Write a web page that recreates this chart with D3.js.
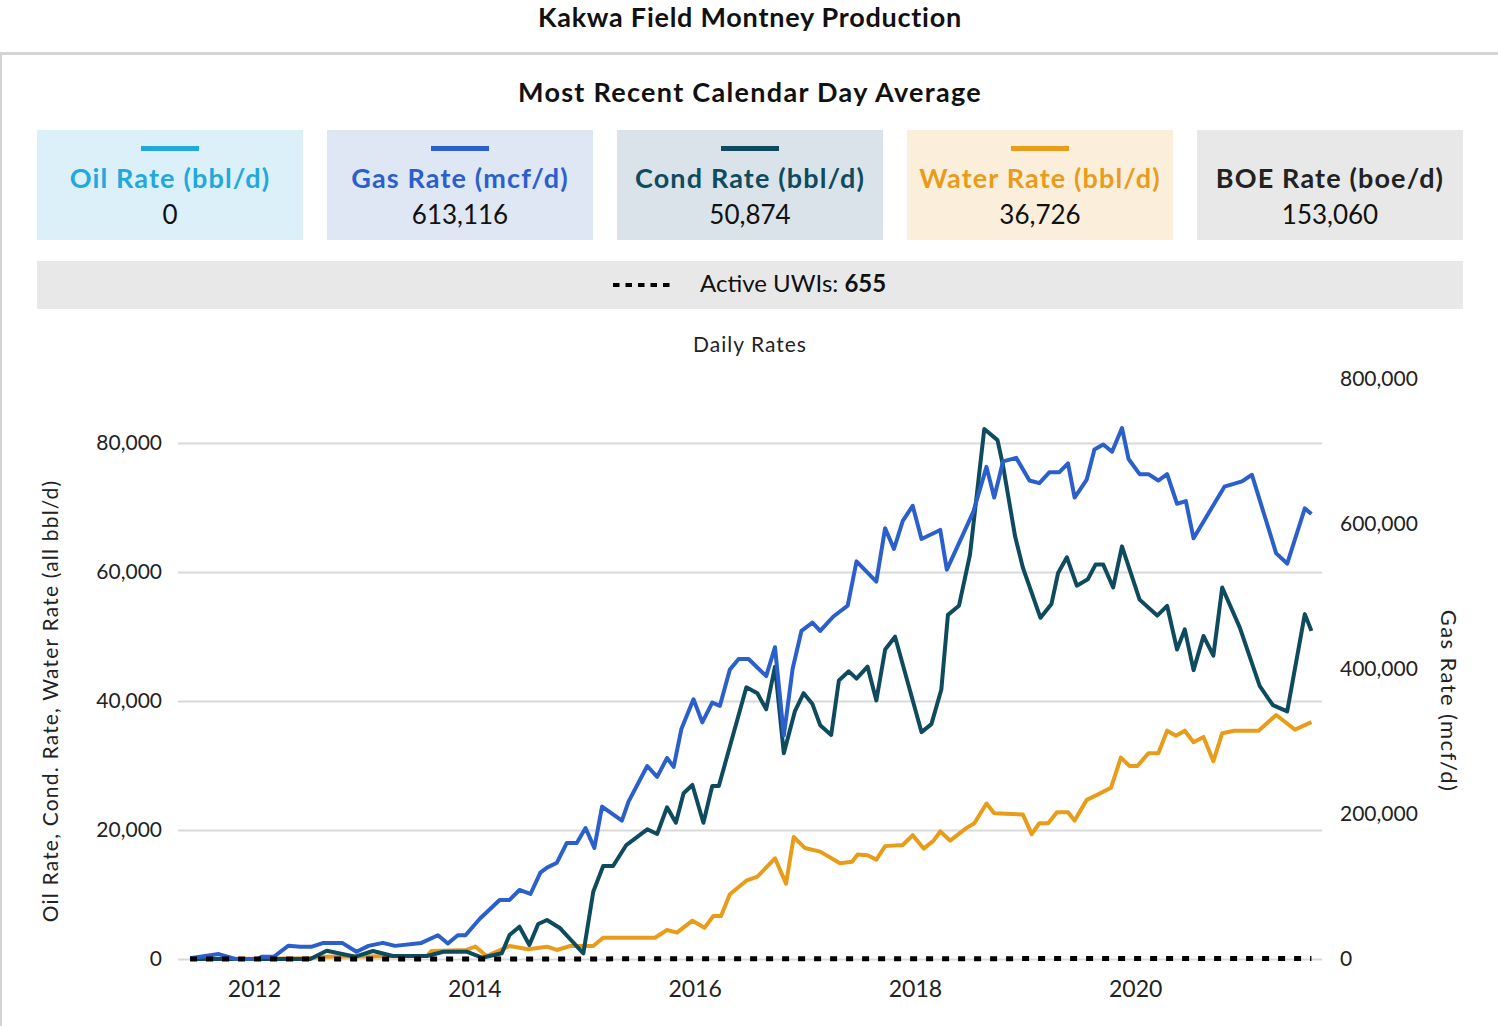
<!DOCTYPE html>
<html>
<head>
<meta charset="utf-8">
<script src="https://cdn.jsdelivr.net/npm/d3@7"></script>
<style>
    body { margin: 0; background: #fff; }
    svg { display: block; font-family: "Century Gothic", Lato, sans-serif; }
</style>
</head>
<body>
<svg id="chart" width="1498" height="1026"></svg>
<script>
// Summary cards
var cardLabels = ["Oil Rate (bbl/d)", "Gas Rate (mcf/d)", "Cond Rate (bbl/d)", "Water Rate (bbl/d)", "BOE Rate (boe/d)"];
var cardValues = [0, 613116, 50874, 36726, 153060];
var activeUwis = 655;

// Axis ticks
var yearTicks = [2012, 2014, 2016, 2018, 2020];
var leftTicks = [0, 20000, 40000, 60000, 80000];
var rightTicks = [0, 200000, 400000, 600000, 800000];

// Series: [decimal year, rate]
var gasRate = [
    [2011.42, 1000], [2011.68, 6800], [2011.83, 0], [2012.04, 0], [2012.07, 3100], [2012.18, 3100],
    [2012.31, 18100], [2012.42, 16800], [2012.52, 16800], [2012.63, 22200], [2012.80, 22200], [2012.93, 10000],
    [2013.04, 18100], [2013.17, 22200], [2013.28, 18100], [2013.52, 22200], [2013.67, 32700], [2013.76, 21400],
    [2013.85, 32700], [2013.92, 32700], [2014.05, 55500], [2014.23, 81400], [2014.32, 81400], [2014.41, 95100],
    [2014.51, 89600], [2014.60, 119100], [2014.66, 125900], [2014.75, 132700], [2014.84, 160000], [2014.93, 160000],
    [2015.01, 180500], [2015.09, 153200], [2015.16, 210100], [2015.34, 190600], [2015.40, 216900], [2015.57, 266000],
    [2015.66, 251000], [2015.75, 277000], [2015.81, 264700], [2015.88, 316900], [2015.99, 357900], [2016.07, 326100],
    [2016.16, 353300], [2016.23, 348900], [2016.32, 398800], [2016.40, 413400], [2016.49, 413400], [2016.65, 389800],
    [2016.73, 429700], [2016.81, 308100], [2016.89, 400000], [2016.97, 452100], [2017.07, 463600], [2017.14, 452100],
    [2017.26, 472000], [2017.39, 486900], [2017.47, 548000], [2017.65, 520200], [2017.73, 593700], [2017.81, 565000],
    [2017.89, 603700], [2017.98, 624600], [2018.06, 578900], [2018.23, 591300], [2018.29, 536600], [2018.41, 576300],
    [2018.53, 616100], [2018.65, 678200], [2018.72, 635900], [2018.80, 685700], [2018.92, 690600], [2019.04, 659400],
    [2019.13, 655800], [2019.22, 670700], [2019.31, 670700], [2019.39, 683100], [2019.45, 635900], [2019.56, 660700],
    [2019.63, 702100], [2019.71, 709000], [2019.79, 699100], [2019.88, 731800], [2019.94, 689100], [2020.04, 668200],
    [2020.12, 668200], [2020.21, 659400], [2020.29, 668200], [2020.38, 627400], [2020.46, 631000], [2020.53, 579800],
    [2020.81, 650900], [2020.97, 658300], [2021.06, 667300], [2021.28, 559000], [2021.38, 545000], [2021.54, 621000],
    [2021.60, 613116]
];

var condRate = [
    [2011.42, 0], [2012.51, 0], [2012.66, 1290], [2012.92, 360], [2013.08, 1240], [2013.26, 470], [2013.57, 470],
    [2013.72, 1130], [2013.93, 1130], [2014.07, 200], [2014.25, 880], [2014.32, 3720], [2014.41, 5010], [2014.50, 2170],
    [2014.58, 5430], [2014.66, 6050], [2014.78, 4760], [2014.99, 880], [2015.08, 10430], [2015.17, 14420],
    [2015.26, 14420], [2015.38, 17670], [2015.57, 20110], [2015.66, 19380], [2015.75, 23520], [2015.83, 21130],
    [2015.90, 25690], [2015.98, 26980], [2016.08, 21130], [2016.16, 26820], [2016.22, 26820], [2016.47, 42120],
    [2016.57, 41190], [2016.65, 38710], [2016.73, 45320], [2016.81, 31910], [2016.91, 38390], [2016.99, 41210],
    [2017.07, 39520], [2017.14, 36250], [2017.24, 34730], [2017.31, 43190], [2017.40, 44600], [2017.47, 43470],
    [2017.57, 45330], [2017.65, 40090], [2017.73, 47980], [2017.82, 49970], [2018.06, 35180], [2018.15, 36420],
    [2018.24, 41780], [2018.30, 53350], [2018.40, 54760], [2018.50, 62670], [2018.63, 82160], [2018.75, 80450],
    [2018.80, 76510], [2018.91, 65490], [2018.98, 60700], [2019.14, 52900], [2019.24, 55050], [2019.30, 59850],
    [2019.38, 62280], [2019.47, 57880], [2019.57, 58880], [2019.64, 61150], [2019.71, 61150], [2019.80, 57600],
    [2019.88, 63970], [2020.04, 55720], [2020.20, 53240], [2020.29, 54760], [2020.38, 47980], [2020.45, 51100],
    [2020.53, 44780], [2020.62, 50080], [2020.71, 47040], [2020.79, 57600], [2020.95, 51380], [2021.13, 42340],
    [2021.25, 39350], [2021.38, 38390], [2021.54, 53470], [2021.60, 50874]
];

var waterRate = [
    [2011.42, 0], [2012.52, 100], [2012.60, 360], [2013.57, 470], [2013.61, 1240], [2013.93, 1400], [2014.01, 1940],
    [2014.11, 470], [2014.32, 2020], [2014.49, 1500], [2014.66, 1910], [2014.75, 1400], [2014.87, 2020],
    [2015.08, 2020], [2015.17, 3300], [2015.64, 3300], [2015.75, 4500], [2015.84, 4080], [2015.98, 5940],
    [2016.09, 4850], [2016.17, 6670], [2016.24, 6670], [2016.32, 10030], [2016.47, 12140], [2016.57, 12760],
    [2016.73, 15610], [2016.83, 11690], [2016.90, 18910], [2017.00, 17220], [2017.14, 16650], [2017.32, 14850],
    [2017.43, 15070], [2017.48, 16200], [2017.57, 16090], [2017.65, 15410], [2017.73, 17500], [2017.89, 17670],
    [2017.98, 19190], [2018.08, 17120], [2018.17, 18360], [2018.23, 19770], [2018.32, 18360], [2018.47, 20330],
    [2018.54, 21050], [2018.65, 24110], [2018.72, 22590], [2018.98, 22420], [2019.06, 19360], [2019.13, 21050],
    [2019.21, 21050], [2019.29, 22760], [2019.39, 22760], [2019.45, 21460], [2019.56, 24670], [2019.65, 25410],
    [2019.78, 26540], [2019.87, 31220], [2019.95, 29920], [2020.02, 29920], [2020.12, 31910], [2020.21, 31910],
    [2020.29, 35400], [2020.37, 34610], [2020.45, 35400], [2020.53, 33600], [2020.62, 34430], [2020.71, 30670],
    [2020.79, 35010], [2020.90, 35400], [2021.12, 35400], [2021.28, 37830], [2021.45, 35560], [2021.60, 36726]
];

var uwiCount = [
    [2011.42, 5], [2013.0, 40], [2015.0, 150], [2017.0, 330], [2019.0, 520], [2021.60, 655]
];

// Colours
var cardFill = ["#dcf0f9", "#dfe6f4", "#dae3e9", "#fbefdc", "#e8e8e8"];
var cardInk = ["#22a8dd", "#2b5fcc", "#0f4b5f", "#e89c1a", "#222222"];

var svg = d3.select("#chart");

// Frame
svg.append("line")
    .attr("x1", 0).attr("x2", 1498)
    .attr("y1", 53.5).attr("y2", 53.5)
    .style("stroke", "#d4d4d4")
    .style("stroke-width", 3);

svg.append("line")
    .attr("x1", 1).attr("x2", 1)
    .attr("y1", 53).attr("y2", 1026)
    .style("stroke", "#d4d4d4")
    .style("stroke-width", 2);

// Titles
svg.append("text")
    .attr("x", 750).attr("y", 27)
    .attr("text-anchor", "middle")
    .style("font-size", "27px").style("font-weight", "bold").style("fill", "#111")
    .style("letter-spacing", "0.75px")
    .text("Kakwa Field Montney Production");

svg.append("text")
    .attr("x", 750).attr("y", 102)
    .attr("text-anchor", "middle")
    .style("font-size", "27px").style("font-weight", "bold").style("fill", "#111")
    .style("letter-spacing", "1.3px")
    .text("Most Recent Calendar Day Average");

// Cards
var cardX = d3.scaleBand().domain(cardLabels).range([37, 1463]).paddingInner(24 / 290);
var fmt = d3.format(",");

var cards = svg.selectAll("g.card")
    .data(cardLabels)
    .enter()
    .append("g")
    .attr("class", "card")
    .attr("transform", d => "translate(" + cardX(d) + ",130)");

cards.append("rect")
    .attr("width", cardX.bandwidth())
    .attr("height", 110)
    .style("fill", (d, i) => cardFill[i]);

cards.filter((d, i) => i < 4)
    .append("rect")
    .attr("x", cardX.bandwidth() / 2 - 29)
    .attr("y", 16)
    .attr("width", 58)
    .attr("height", 5)
    .style("fill", (d, i) => cardInk[i]);

cards.append("text")
    .attr("x", cardX.bandwidth() / 2)
    .attr("y", 58)
    .attr("text-anchor", "middle")
    .style("font-size", "27px").style("font-weight", "bold")
    .style("letter-spacing", "1.15px")
    .style("fill", (d, i) => cardInk[i])
    .text(d => d);

cards.append("text")
    .attr("x", cardX.bandwidth() / 2)
    .attr("y", 94)
    .attr("text-anchor", "middle")
    .style("font-size", "26px").style("fill", "#111")
    .text((d, i) => fmt(cardValues[i]));

// Active UWIs bar
svg.append("rect")
    .attr("x", 37).attr("y", 261)
    .attr("width", 1426).attr("height", 48)
    .style("fill", "#e8e8e8");

svg.append("line")
    .attr("x1", 613).attr("x2", 673)
    .attr("y1", 285).attr("y2", 285)
    .style("stroke", "#000")
    .style("stroke-width", 4)
    .style("stroke-dasharray", "6.5,6");

var uwiText = svg.append("text")
    .attr("x", 700).attr("y", 292)
    .style("font-size", "24px").style("fill", "#111");
uwiText.append("tspan").text("Active UWIs: ");
uwiText.append("tspan").style("font-weight", "bold").text(activeUwis);

// Chart
svg.append("text")
    .attr("x", 750).attr("y", 352)
    .attr("text-anchor", "middle")
    .style("font-size", "21px").style("fill", "#222")
    .style("letter-spacing", "1px")
    .text("Daily Rates");

var xScale = d3.scaleLinear().domain([2011.31, 2021.696]).range([178, 1322]);
var yLeft = d3.scaleLinear().domain([0, 90000]).range([959, 378.5]);
var yRight = d3.scaleLinear().domain([0, 800000]).range([959, 378.5]);

// Gridlines
var grid = svg.append("g")
    .attr("transform", "translate(178,0)")
    .call(d3.axisLeft(yLeft).tickValues(leftTicks).tickSize(-1144).tickFormat(""));
grid.select(".domain").remove();
grid.selectAll("line").style("stroke", "#d9d9d9").style("stroke-width", 2);

// Left axis labels
var leftAxis = svg.append("g")
    .attr("transform", "translate(178,0)")
    .call(d3.axisLeft(yLeft).tickValues(leftTicks).tickSize(0).tickPadding(16).tickFormat(fmt));
leftAxis.select(".domain").remove();
leftAxis.selectAll("text").style("font-size", "21px").style("fill", "#222");

// Right axis labels
var rightAxis = svg.append("g")
    .attr("transform", "translate(1322,0)")
    .call(d3.axisRight(yRight).tickValues(rightTicks).tickSize(0).tickPadding(18).tickFormat(fmt));
rightAxis.select(".domain").remove();
rightAxis.selectAll("text").style("font-size", "21px").style("fill", "#222");

// Bottom axis labels
var bottomAxis = svg.append("g")
    .attr("transform", "translate(0,959)")
    .call(d3.axisBottom(xScale).tickValues(yearTicks).tickSize(0).tickPadding(22).tickFormat(d3.format("d")));
bottomAxis.select(".domain").remove();
bottomAxis.selectAll("text").style("font-size", "23px").style("fill", "#222");

svg.selectAll("g").attr("font-family", null).attr("font-size", null);

// Axis titles
svg.append("text")
    .attr("transform", "translate(58,701) rotate(-90)")
    .attr("text-anchor", "middle")
    .style("font-size", "21px").style("fill", "#222")
    .style("letter-spacing", "1.2px")
    .text("Oil Rate, Cond. Rate, Water Rate (all bbl/d)");

svg.append("text")
    .attr("transform", "translate(1441,701) rotate(90)")
    .attr("text-anchor", "middle")
    .style("font-size", "22px").style("fill", "#222")
    .style("letter-spacing", "1.4px")
    .text("Gas Rate (mcf/d)");

// Lines
var leftLine = d3.line().x(d => xScale(d[0])).y(d => yLeft(d[1]));
var rightLine = d3.line().x(d => xScale(d[0])).y(d => yRight(d[1]));

svg.append("path")
    .attr("d", leftLine(waterRate))
    .style("fill", "none").style("stroke", cardInk[3]).style("stroke-width", 4)
    .style("stroke-linejoin", "round");

svg.append("path")
    .attr("d", leftLine(condRate))
    .style("fill", "none").style("stroke", cardInk[2]).style("stroke-width", 4)
    .style("stroke-linejoin", "round");

svg.append("path")
    .attr("d", rightLine(gasRate))
    .style("fill", "none").style("stroke", cardInk[1]).style("stroke-width", 4)
    .style("stroke-linejoin", "round");

// Active UWIs share the gas axis, so they sit on the zero line
svg.append("path")
    .attr("d", rightLine(uwiCount))
    .style("fill", "none").style("stroke", "#000").style("stroke-width", 5)
    .style("stroke-dasharray", "7,9");
</script>
</body>
</html>
